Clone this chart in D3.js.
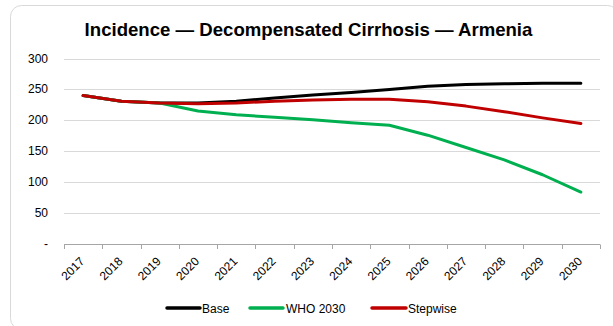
<!DOCTYPE html>
<html>
<head>
<meta charset="utf-8">
<script src="https://cdn.jsdelivr.net/npm/d3@7"></script>
<style>
  html, body { margin: 0; padding: 0; background: #fff; }
  svg { display: block; font-family: "Liberation Sans", Arial, sans-serif; }
</style>
</head>
<body>
<svg id="chart" width="613" height="326"></svg>
<script>
// Years on the category axis
const years = ["2017","2018","2019","2020","2021","2022","2023","2024","2025","2026","2027","2028","2029","2030"];

// Incidence of decompensated cirrhosis by scenario
const baseValues     = [240, 231, 228, 228, 231, 236, 241, 245, 250, 255, 258, 259, 260, 260];
const who2030Values  = [240, 231, 228, 215, 209, 205, 201, 196, 192, 176, 156, 136, 112, 84];
const stepwiseValues = [240, 231, 228, 227, 228, 231, 233, 234, 234, 230, 223, 214, 204, 195];

// Y axis tick values and labels
const yTicks = [0, 50, 100, 150, 200, 250, 300];
const yTickLabels = ["-", "50", "100", "150", "200", "250", "300"];

const seriesNames = ["Base", "WHO 2030", "Stepwise"];
const seriesColors = ["#000000", "#00B050", "#C00000"];
const seriesValues = [baseValues, who2030Values, stepwiseValues];

const svg = d3.select("#chart");

// Rounded outer frame
svg.append("rect")
  .attr("x", 10.5).attr("y", 5.5)
  .attr("width", 608).attr("height", 324)
  .attr("rx", 11).attr("ry", 11)
  .attr("fill", "#fff")
  .attr("stroke", "#d9d9d9")
  .attr("stroke-width", 1);

// Title
svg.append("text")
  .attr("x", 308.5).attr("y", 36)
  .attr("text-anchor", "middle")
  .attr("font-size", 18.6)
  .attr("font-weight", "bold")
  .attr("fill", "#000")
  .text("Incidence \u2014 Decompensated Cirrhosis \u2014 Armenia");

const plot = { left: 64, right: 600, top: 58.5, bottom: 244 };

const x = d3.scaleBand().domain(years).range([plot.left, plot.right]).padding(0);
const y = d3.scaleLinear().domain([0, 300]).range([plot.bottom, plot.top]);
const cx = d => x(d) + x.bandwidth() / 2;

// Horizontal gridlines
svg.append("g")
  .selectAll("line")
  .data(yTicks.filter(v => v > 0))
  .join("line")
  .attr("x1", plot.left).attr("x2", plot.right)
  .attr("y1", d => Math.round(y(d)) + 0.5).attr("y2", d => Math.round(y(d)) + 0.5)
  .attr("stroke", "#d9d9d9")
  .attr("stroke-width", 1);

// Y axis labels
svg.append("g")
  .selectAll("text")
  .data(yTicks)
  .join("text")
  .attr("x", 48)
  .attr("y", d => y(d) + 4)
  .attr("text-anchor", "end")
  .attr("font-size", 12)
  .attr("fill", "#000")
  .text((d, i) => yTickLabels[i]);

// X axis line with tick marks at category boundaries
const xAxis = svg.append("g");
xAxis.append("line")
  .attr("x1", plot.left).attr("x2", plot.right)
  .attr("y1", Math.round(plot.bottom) + 0.5).attr("y2", Math.round(plot.bottom) + 0.5)
  .attr("stroke", "#a6a6a6");
const boundaries = years.map(d => x(d)).concat([plot.right]);
xAxis.selectAll("line.tick")
  .data(boundaries)
  .join("line")
  .attr("class", "tick")
  .attr("x1", d => Math.round(d) + 0.5).attr("x2", d => Math.round(d) + 0.5)
  .attr("y1", Math.round(plot.bottom) + 0.5).attr("y2", Math.round(plot.bottom) + 5)
  .attr("stroke", "#a6a6a6");

// Rotated year labels
xAxis.selectAll("text")
  .data(years)
  .join("text")
  .attr("transform", d => `translate(${cx(d) + 2},${262}) rotate(-45)`)
  .attr("text-anchor", "end")
  .attr("font-size", 12)
  .attr("fill", "#000")
  .text(d => d);

// Scenario lines
const line = d3.line()
  .x((d, i) => cx(years[i]))
  .y(d => y(d));

svg.append("g")
  .selectAll("path")
  .data(seriesValues)
  .join("path")
  .attr("d", d => line(d))
  .attr("fill", "none")
  .attr("stroke", (d, i) => seriesColors[i])
  .attr("stroke-width", 3)
  .attr("stroke-linejoin", "round")
  .attr("stroke-linecap", "round");

// Legend
const legendItems = [
  { x1: 167, x2: 200, tx: 202 },
  { x1: 250, x2: 283, tx: 286 },
  { x1: 372, x2: 406, tx: 408 }
];
const legend = svg.append("g");
legend.selectAll("line")
  .data(seriesNames)
  .join("line")
  .attr("x1", (d, i) => legendItems[i].x1)
  .attr("x2", (d, i) => legendItems[i].x2)
  .attr("y1", 308).attr("y2", 308)
  .attr("stroke", (d, i) => seriesColors[i])
  .attr("stroke-width", 3.5)
  .attr("stroke-linecap", "round");
legend.selectAll("text")
  .data(seriesNames)
  .join("text")
  .attr("x", (d, i) => legendItems[i].tx)
  .attr("y", 312.5)
  .attr("font-size", 12)
  .attr("fill", "#000")
  .text(d => d);
</script>
</body>
</html>
